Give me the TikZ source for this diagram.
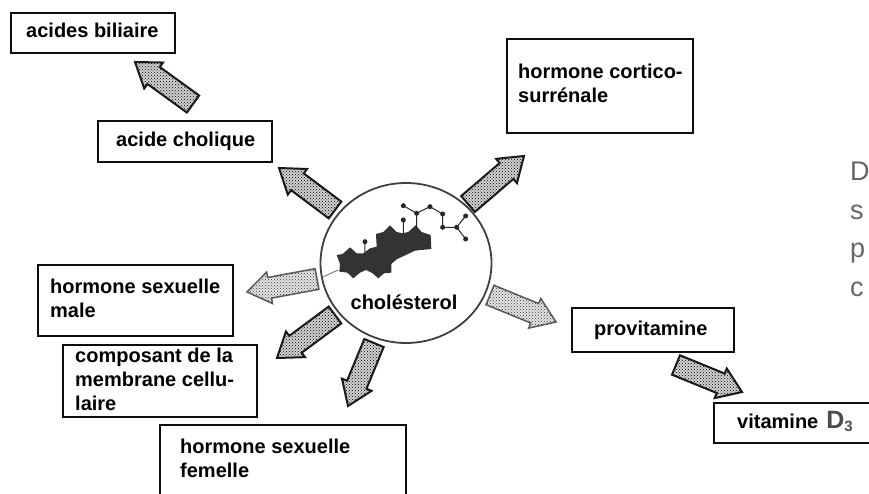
\documentclass[tikz,border=0pt]{standalone}
\usepackage{fontspec}
\setmainfont{Liberation Sans}
\usetikzlibrary{calc,patterns,shapes.geometric}
\newcommand{\blockarrow}[3][]{%
  \coordinate (neck) at ($(#3)!23pt!(#2)$);
  \draw[arrowbody,#1] ($(#2)!10.5pt!90:(#3)$) -- ($(neck)!10.5pt!-90:(#2)$) -- ($(neck)!16pt!-90:(#2)$) -- (#3)
    -- ($(neck)!16pt!90:(#2)$) -- ($(neck)!10.5pt!90:(#2)$) -- ($(#2)!10.5pt!-90:(#3)$) -- cycle;}
\newcommand{\boxtext}[4]{\makebox[#1pt][l]{\hspace*{#2pt}\raisebox{#3pt}{\begin{tabular}{@{}l@{}}#4\end{tabular}}}}
\tikzset{
  x=1pt,y=-1pt,
  arrowbody/.style={draw=black!90,line width=2pt,line join=miter,preaction={fill=gray!35},pattern=crosshatch dots,pattern color=black},
  paler/.style={draw=black!65,line width=1.5pt,preaction={fill=gray!20},pattern color=black!80},
  labelbox/.style={draw=black!95,line width=2.4pt,fill=white,inner sep=0pt,anchor=north west,font=\bfseries\fontsize{20}{24}\selectfont},
  sidetext/.style={text=black!60,font=\fontsize{27}{27}\selectfont,anchor=base west,inner sep=0pt},
  atomdot/.style={fill=black!85,draw=none,circle,minimum size=5pt,inner sep=0pt},
}
\begin{document}
\begin{tikzpicture}
\useasboundingbox (0,0) rectangle (869,494);
% boxes
\node[labelbox,minimum width=164pt,minimum height=40pt] (bili) at (10,12) {\boxtext{164}{15}{0}{acides biliaire}};
\node[labelbox,minimum width=174pt,minimum height=41pt] (chq) at (97,120) {\boxtext{174}{18}{0}{acide cholique}};
\node[labelbox,minimum width=186pt,minimum height=94pt] (cort) at (506,38) {\boxtext{186}{11}{0}{hormone cortico-\\surrénale}};
\node[labelbox,minimum width=195pt,minimum height=71pt] (male) at (37,264) {\boxtext{195}{12}{0}{hormone sexuelle\\male}};
\node[labelbox,minimum width=194pt,minimum height=72pt] (memb) at (62,344) {\boxtext{194}{12}{-2}{composant de la\\membrane cellu-\\laire}};
\node[labelbox,minimum width=246pt,minimum height=70pt] (fem) at (159,424) {\boxtext{246}{20}{-2}{hormone sexuelle\\femelle}};
\node[labelbox,minimum width=162pt,minimum height=44pt] (prov) at (571,307) {\boxtext{162}{22}{0}{provitamine}};
\node[labelbox,minimum width=170pt,minimum height=40pt] (vit) at (713,402) {\boxtext{170}{23}{0}{vitamine\hspace{8pt}{\color{black!70}\fontsize{25}{24}\selectfont D\raisebox{-3pt}{\fontsize{15}{15}\selectfont 3}}}};
% cholesterol
\node[draw=black!75,line width=1.8pt,ellipse,minimum width=171pt,minimum height=160pt,inner sep=0pt] (circ) at (406,263) {};
\begin{scope}[shift={(300,170)},x=0.3333pt,y=-0.3333pt]
  \draw[black!50,line width=1pt] (70,320) -- (115,300);
  \fill[black!80] (110,255) -- (128,252) -- (150,232) -- (170,250) -- (190,250) -- (210,235) -- (230,230) -- (228,192) -- (250,186) -- (270,166) -- (290,186) -- (308,190) -- (325,186) -- (347,166) -- (365,186) -- (392,195) -- (394,237) -- (345,242) -- (290,268) -- (274,282) -- (274,308) -- (252,310) -- (235,325) -- (218,310) -- (198,300) -- (180,308) -- (160,325) -- (142,308) -- (118,305) -- (120,282) -- cycle;
  \draw[black!85,line width=1pt] (195,215) -- (195,255) (310,150) -- (310,190) (350,130) -- (350,175)
    (310,107) -- (350,130) -- (390,110) -- (428,132) -- (428,172) -- (470,172) -- (497,138) (470,172) -- (497,207);
  \foreach \p in {(195,215),(310,150),(310,107),(350,130),(390,110),(428,132),(428,172),(470,172),(497,138),(497,207)}
    \node[atomdot] at \p {};
\end{scope}
\node[inner sep=0pt,font=\bfseries\fontsize{20}{24}\selectfont] (chol) at (404,302) {cholésterol};
% block arrows
\coordinate (t1) at (193,104); \coordinate (h1) at (135,62);
\coordinate (t2) at (335,210); \coordinate (h2) at (279,168);
\coordinate (t3) at (468,204); \coordinate (h3) at (524,156);
\coordinate (t4) at (317,279); \coordinate (h4) at (247,292);
\coordinate (t5) at (335,315); \coordinate (h5) at (277,358);
\coordinate (t6) at (374,343); \coordinate (h6) at (348,406);
\coordinate (t7) at (490,295); \coordinate (h7) at (556,322);
\coordinate (t8) at (676,365); \coordinate (h8) at (742,392);
\blockarrow{t1}{h1}
\blockarrow{t2}{h2}
\blockarrow{t3}{h3}
\blockarrow[paler]{t4}{h4}
\blockarrow{t5}{h5}
\blockarrow{t6}{h6}
\blockarrow[paler]{t7}{h7}
\blockarrow{t8}{h8}
% text at the right edge
\node[sidetext] (s1) at (850,181) {D};
\node[sidetext] (s2) at (850,219) {s};
\node[sidetext] (s3) at (850,257) {p};
\node[sidetext] (s4) at (850,296) {c};
\end{tikzpicture}
\end{document}
